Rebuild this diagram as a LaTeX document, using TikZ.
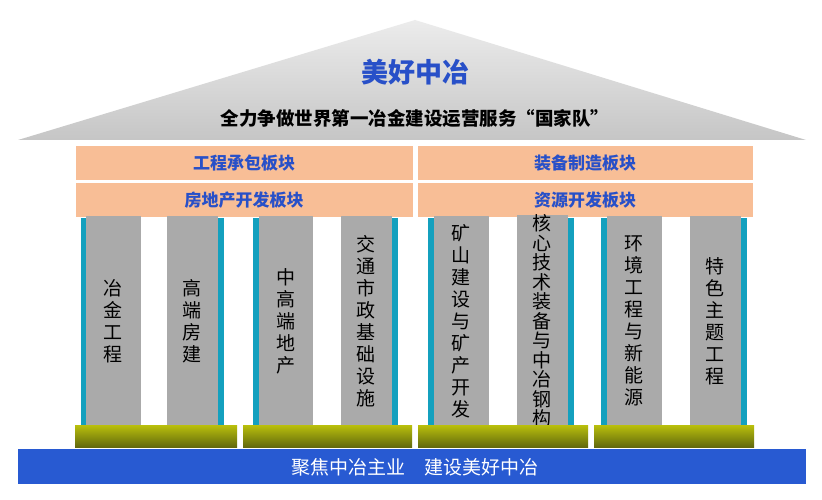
\documentclass[tikz,border=0pt]{standalone}
\usepackage{fontspec}
\setmainfont{Noto Sans CJK SC}
\usetikzlibrary{positioning}
\definecolor{bandorange}{RGB}{248,190,150}
\definecolor{bandblue}{RGB}{40,80,200}
\definecolor{pillargray}{RGB}{170,170,170}
\definecolor{stripteal}{RGB}{20,160,190}
\definecolor{plinthol}{RGB}{140,150,20}
\definecolor{basblue}{RGB}{40,90,210}
\begin{document}
\begin{tikzpicture}[x=1pt,y=-1pt]
	\tikzstyle{band} = [rectangle, fill=bandorange, draw=white, inner sep=0pt, text=bandblue, font=\fontsize{17}{17}\selectfont\bfseries]
	\tikzstyle{pillar} = [rectangle, fill=pillargray, inner sep=0pt, minimum height=210pt, align=center, font=\fontsize{19}{22}\selectfont]
	\tikzstyle{strip} = [fill=stripteal]
	\tikzstyle{plinth} = [top color=plinthol!60!yellow, bottom color=plinthol!70!black]

	\useasboundingbox (0,0) rectangle (822,500);
	\fill[white] (0,0) rectangle (822,500);

	% roof
	\shade[top color=gray!15, bottom color=gray!45] (415,20) -- (806,140) -- (18,140) -- cycle;
	\node (title) at (415,72) {\fontsize{27}{27}\selectfont\bfseries\color{bandblue}美好中冶};
	\node (subtitle) at (415,118) {\fontsize{18.5}{18.5}\selectfont\bfseries 全力争做世界第一冶金建设运营服务“国家队”};

	% bands
	\node (bandA) [band, minimum width=338pt, minimum height=35pt] at (244,163) {工程承包板块};
	\node (bandB) [band, minimum width=338pt, minimum height=35pt] at (244,200) {房地产开发板块};
	\node (bandC) [band, minimum width=336pt, minimum height=35pt] at (585,163) {装备制造板块};
	\node (bandD) [band, minimum width=336pt, minimum height=35pt] at (585,200) {资源开发板块};

	% teal strips
	\foreach \x in {81,218,253,392,428,568,601,741}
		\fill[strip] (\x,218) rectangle (\x+6,425);

	% pillars
	\node (p1) [pillar, minimum width=55pt] at (113,321) {冶\\金\\工\\程};
	\node (p2) [pillar, minimum width=51pt] at (192,321) {高\\端\\房\\建};
	\node (p3) [pillar, minimum width=54pt] at (286,321) {中\\高\\端\\地\\产};
	\node (p4) [pillar, minimum width=51pt] at (366,321) {交\\通\\市\\政\\基\\础\\设\\施};
	\node (p5) [pillar, minimum width=55pt] at (461,321) {矿\\山\\建\\设\\与\\矿\\产\\开\\发};
	\node (p6) [pillar, minimum width=51pt, font=\fontsize{19}{19.5}\selectfont] at (542,321) {核\\心\\技\\术\\装\\备\\与\\中\\冶\\钢\\构};
	\node (p7) [pillar, minimum width=55pt] at (634,321) {环\\境\\工\\程\\与\\新\\能\\源};
	\node (p8) [pillar, minimum width=51pt] at (715,321) {特\\色\\主\\题\\工\\程};

	% plinths
	\shade[plinth] (75,425) rectangle (237,447);
	\shade[plinth] (243,425) rectangle (412,447);
	\shade[plinth] (418,425) rectangle (588,447);
	\shade[plinth] (594,425) rectangle (754,447);

	% base
	\fill[basblue] (18,449) rectangle (806,484);
	\node (base) at (415,467) {\fontsize{19}{19}\selectfont\color{white}聚焦中冶主业\quad 建设美好中冶};
\end{tikzpicture}
\end{document}
